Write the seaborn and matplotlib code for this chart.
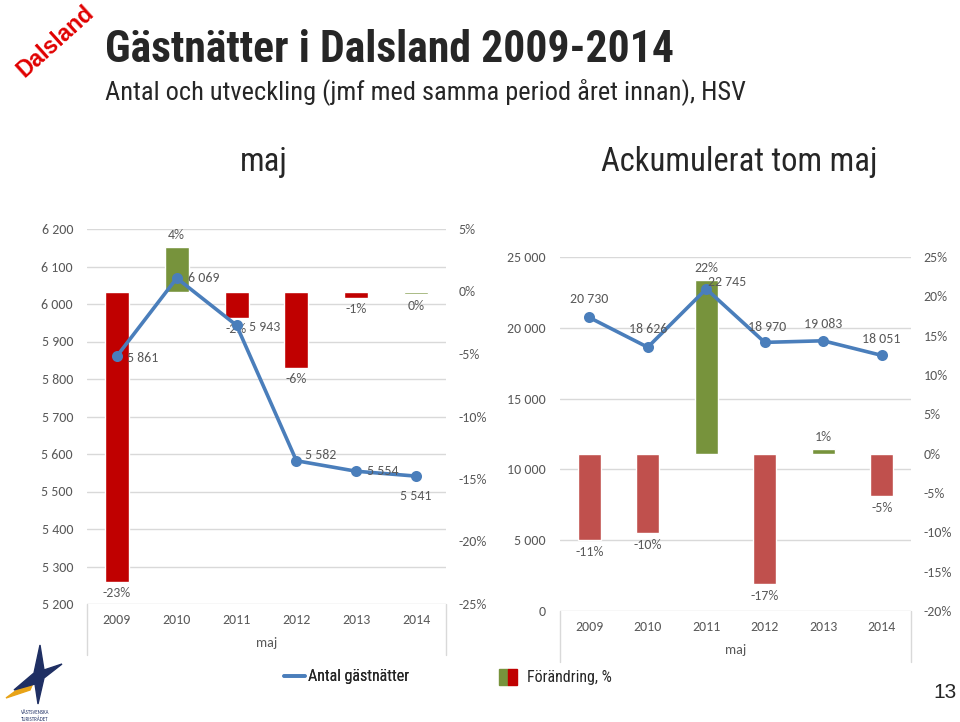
import matplotlib
matplotlib.use("Agg")
import matplotlib.pyplot as plt
from matplotlib.ticker import FuncFormatter, MultipleLocator
from matplotlib.lines import Line2D
from matplotlib.patches import Patch, Polygon
from matplotlib.legend_handler import HandlerTuple
import seaborn as sns

# data
years = ['2009', '2010', '2011', '2012', '2013', '2014']

maj_nights = [5861, 6069, 5943, 5582, 5554, 5541]
maj_change = [-23.2, 3.6, -2.1, -6.1, -0.5, -0.2]
maj_change_labels = ['-23%', '4%', '-2%', '-6%', '-1%', '0%']
maj_bar_colors = ['#C00000', '#77933C', '#C00000', '#C00000', '#C00000', '#77933C']

acc_nights = [20730, 18626, 22745, 18970, 19083, 18051]
acc_change = [-11.0, -10.1, 22.1, -16.6, 0.6, -5.4]
acc_change_labels = ['-11%', '-10%', '22%', '-17%', '1%', '-5%']
acc_bar_colors = ['#C0504D', '#C0504D', '#77933C', '#C0504D', '#77933C', '#C0504D']

sns.set_style("white")
NARROW = ['Roboto Condensed', 'Liberation Sans', 'DejaVu Sans']
LABEL_FONT = ['Carlito', 'Lato', 'DejaVu Sans']
plt.rcParams['font.family'] = LABEL_FONT

LINE = '#4A7EBB'
GRID = '#D9D9D9'
TXT = '#595959'
FS = 10


def thousands(v, pos=None):
    return f"{v:,.0f}".replace(",", " ")


def panel(fig, rect, nights, change, change_labels, colors, ylim, ystep,
          plim, pstep, offsets, box_len):
    ax = fig.add_axes(rect)
    axb = ax.twinx()
    axl = ax.twinx()

    # count axis (left) with the grid
    ax.set_ylim(*ylim)
    ax.yaxis.set_major_locator(MultipleLocator(ystep))
    ax.yaxis.set_major_formatter(FuncFormatter(thousands))
    ax.grid(axis='y', color=GRID, lw=1)

    # change bars (right axis)
    sns.barplot(x=years, y=change, hue=years, palette=colors, width=0.4,
                saturation=1, legend=False, ax=axb)
    axb.set_ylim(*plim)
    axb.yaxis.set_major_locator(MultipleLocator(pstep))
    axb.yaxis.set_major_formatter(FuncFormatter(lambda v, p: f"{v:.0f}%"))
    for cont, lab in zip(axb.containers, change_labels):
        axb.bar_label(cont, labels=[lab], padding=4, color=TXT, fontsize=FS)

    # guest nights line
    sns.pointplot(x=years, y=nights, ax=axl, color=LINE, markers='o',
                  markersize=6, linewidth=2.6, errorbar=None)
    axl.set_ylim(*ylim)
    axl.yaxis.set_visible(False)
    for i, (v, (dx, dy, ha)) in enumerate(zip(nights, offsets)):
        axl.annotate(thousands(v), (i, v), xytext=(dx, dy),
                     textcoords='offset points', ha=ha, va='center',
                     color=TXT, fontsize=FS)

    for a in (ax, axb, axl):
        a.set_xlim(-0.5, len(years) - 0.5)
        for s in a.spines.values():
            s.set_visible(False)
        a.set_ylabel('')
    ax.set_xticks(range(len(years)))
    ax.set_xticklabels(years)
    ax.tick_params(axis='x', length=0, pad=7, labelcolor=TXT, labelsize=FS)
    ax.tick_params(axis='y', length=0, pad=10, labelcolor=TXT, labelsize=FS)
    axb.tick_params(axis='y', length=0, pad=9, labelcolor=TXT, labelsize=FS)
    ax.set_xlabel('maj', labelpad=8, color=TXT, fontsize=FS)

    for xa in (0, 1):
        ax.plot([xa, xa], [0, -box_len], transform=ax.transAxes,
                color=GRID, lw=1, clip_on=False)
    return ax


fig = plt.figure(figsize=(9.6, 7.22), dpi=100)

panel(fig, [87 / 960, 1 - 604 / 722, 359 / 960, 375 / 722],
      maj_nights, maj_change, maj_change_labels, maj_bar_colors,
      (5200, 6200), 100, (-25, 5), 5,
      [(7, -1, 'left'), (8, 0, 'left'), (9, -1, 'left'),
       (6, 4, 'left'), (8, 0, 'left'), (0, -14, 'center')],
      0.136)

panel(fig, [560 / 960, 1 - 611 / 722, 351 / 960, 354 / 722],
      acc_nights, acc_change, acc_change_labels, acc_bar_colors,
      (0, 25000), 5000, (-20, 25), 5,
      [(0, 13, 'center'), (0, 13, 'center'), (1, 5, 'left'),
       (2, 11, 'center'), (0, 12, 'center'), (0, 12, 'center')],
      0.144)

# titles
fig.text(105 / 960, 1 - 62 / 722, 'Gästnätter i Dalsland 2009-2014',
         family=NARROW, weight='bold', fontsize=31.5, va='baseline')
fig.text(105 / 960, 1 - 99 / 722,
         'Antal och utveckling (jmf med samma period året innan), HSV',
         family=NARROW, fontsize=19, va='baseline')
fig.text(264 / 960, 1 - 171.5 / 722, 'maj', family=NARROW, fontsize=23.5,
         ha='center', va='baseline')
fig.text(739 / 960, 1 - 171.5 / 722, 'Ackumulerat tom maj', family=NARROW,
         fontsize=23.5, ha='center', va='baseline')
fig.text(55 / 960, 1 - 41 / 722, 'Dalsland', family=['Liberation Sans', 'DejaVu Sans'],
         weight='bold', fontsize=16.5, color='#E00000', rotation=42,
         ha='center', va='center')
fig.text(945 / 960, 1 - 693 / 722, '13', family=['Liberation Sans', 'DejaVu Sans'],
         fontsize=15, ha='center', va='center')

# legends
leg1 = fig.legend(handles=[Line2D([], [], color=LINE, lw=2.6)],
                  labels=['Antal gästnätter'], loc='center left',
                  bbox_to_anchor=(284 / 960, 1 - 677 / 722), frameon=False,
                  handlelength=1.3, handletextpad=0.2, borderpad=0,
                  borderaxespad=0, prop={'family': NARROW, 'size': 11.5})
fig.legend(handles=[(Patch(color='#77933C'), Patch(color='#C00000'))],
           labels=['Förändring, %'], loc='center left',
           handler_map={tuple: HandlerTuple(ndivide=None, pad=0)},
           bbox_to_anchor=(499 / 960, 1 - 677 / 722), frameon=False,
           handlelength=1.15, handleheight=1.15, handletextpad=0.6, borderpad=0,
           borderaxespad=0, prop={'family': NARROW, 'size': 11.5})
fig.add_artist(leg1)

# logo (simple star)
lax = fig.add_axes([0, 0, 70 / 960, 82 / 722])
lax.set_xlim(0, 70)
lax.set_ylim(722, 640)
lax.axis('off')
lax.add_patch(Polygon([(6, 698), (36, 676), (30, 690)], closed=True,
                      color='#E8A317'))
lax.add_patch(Polygon([(40, 645), (44, 670), (62, 664), (44, 678),
                       (38, 704), (35, 684), (14, 690), (34, 673)],
                      closed=True, color='#1F2F63'))
lax.text(35, 712, 'VÄSTSVENSKA', fontsize=3.5, ha='center', va='center',
         color='#1F2F63')
lax.text(35, 719, 'TURISTRÅDET', fontsize=3.5, ha='center', va='center',
         color='#1F2F63')

fig.savefig('out.png', dpi=100)
